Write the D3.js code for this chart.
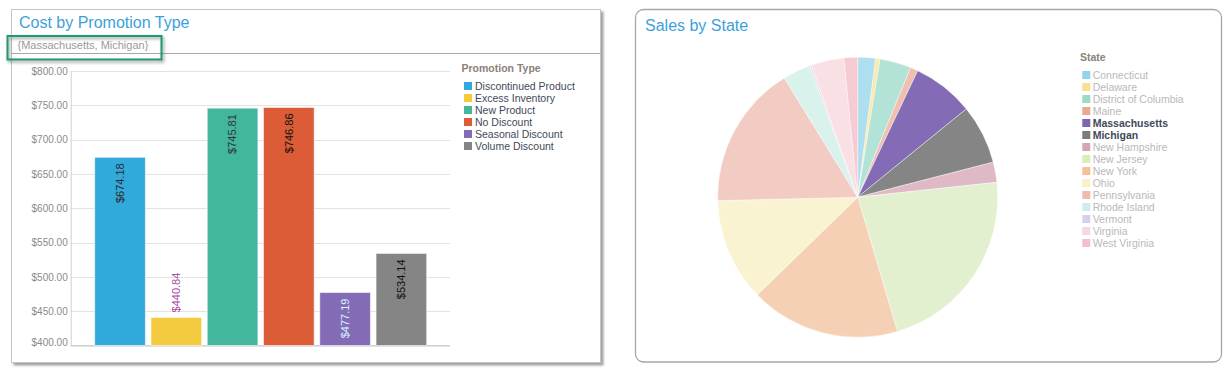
<!DOCTYPE html>
<html>
<head>
<meta charset="utf-8">
<script src="https://cdn.jsdelivr.net/npm/d3@7"></script>
<style>
    body { margin: 0; background: #fff; font-family: "Liberation Sans", Arial, sans-serif; }
</style>
</head>
<body>
<div id="vis"></div>
<script>
// ---- data ----
var promoTypes = ["Discontinued Product", "Excess Inventory", "New Product", "No Discount", "Seasonal Discount", "Volume Discount"];
var promoCost = [674.18, 440.84, 745.81, 746.86, 477.19, 534.14];
var costTicks = [400, 450, 500, 550, 600, 650, 700, 750, 800];
var selectedStates = ["Massachusetts", "Michigan"];

var states = ["Connecticut", "Delaware", "District of Columbia", "Maine", "Massachusetts", "Michigan",
    "New Hampshire", "New Jersey", "New York", "Ohio", "Pennsylvania", "Rhode Island", "Vermont",
    "Virginia", "West Virginia"];
var stateSales = [7400, 1800, 13000, 3200, 25500, 24600, 8400, 79600, 62300, 42800, 59800, 11500, 800, 13600, 5700];

// ---- styles ----
var promoColors = ["#31a9db", "#f4cb3f", "#43b79b", "#db5c37", "#836bb5", "#858585"];
var promoLabelColors = ["#2b2b2b", "#a94aa8", "#333333", "#111111", "#d4f4ff", "#111111"];
var stateColors = ["#93d4ea", "#f9e08e", "#9cd9c9", "#e9a993", "#7e65b3", "#7b7b7b", "#d7a5b6", "#d9ecbf",
    "#f4bf99", "#f9f0c4", "#eebbb0", "#cdeee6", "#d8cfe9", "#f8d8df", "#f5bfc9"];
var stateFaded = ["#aedff0", "#fbe9a8", "#b3e2d6", "#efbfb0", "#836bb5", "#858585", "#e0b9c6", "#e3f0cf",
    "#f6d0b4", "#faf3d2", "#f2cbc3", "#d9f2ec", "#e4dcf0", "#f9e0e5", "#f6cbd3"];

var width = 1232, height = 369;

var svg = d3.select("#vis").append("svg")
    .attr("width", width)
    .attr("height", height);

var defs = svg.append("defs");
var shadow = defs.append("filter").attr("id", "shadow")
    .attr("x", "-5%").attr("y", "-5%").attr("width", "115%").attr("height", "115%");
shadow.append("feDropShadow")
    .attr("dx", 2.5).attr("dy", 2.5).attr("stdDeviation", 1)
    .attr("flood-color", "#888").attr("flood-opacity", 0.8);

var boxShadow = defs.append("filter").attr("id", "boxShadow")
    .attr("x", "-10%").attr("y", "-30%").attr("width", "125%").attr("height", "170%");
boxShadow.append("feDropShadow")
    .attr("dx", 1.5).attr("dy", 2).attr("stdDeviation", 1.5)
    .attr("flood-color", "#555").attr("flood-opacity", 0.6);

/* ****** Left panel: Cost by Promotion Type ****** */
svg.append("rect")
    .attr("x", 11.5).attr("y", 9.5)
    .attr("width", 589).attr("height", 353)
    .attr("fill", "#fff")
    .attr("stroke", "#c4c4c4")
    .attr("filter", "url(#shadow)");

svg.append("text")
    .attr("x", 19).attr("y", 28)
    .attr("font-size", 16)
    .attr("fill", "#3c9fdb")
    .text("Cost by Promotion Type");

svg.append("text")
    .attr("x", 17.5).attr("y", 49)
    .attr("font-size", 11)
    .attr("fill", "#9a9a9a")
    .text("{" + selectedStates.join(", ") + "}");

svg.append("line")
    .attr("x1", 11.5).attr("x2", 600.5)
    .attr("y1", 53.5).attr("y2", 53.5)
    .attr("stroke", "#a8a8a8");

// green highlight around the filter text
svg.append("rect")
    .attr("x", 7.5).attr("y", 36)
    .attr("width", 154).attr("height", 23.5)
    .attr("fill", "none")
    .attr("stroke", "#1c9b6c")
    .attr("stroke-width", 2)
    .attr("filter", "url(#boxShadow)");

var plot = { left: 70.7, right: 450, top: 71, bottom: 345.5 };

var y = d3.scaleLinear()
    .domain([400, 800])
    .range([plot.bottom, plot.top]);

var x = d3.scaleBand()
    .domain(promoTypes)
    .range([91.9, 429.5])
    .paddingInner(0.1)
    .paddingOuter(0.05);

var colorPromo = d3.scaleOrdinal().domain(promoTypes).range(promoColors);

var barG = svg.append("g");

// gridlines
barG.append("g").selectAll("line")
    .data(costTicks)
    .enter().append("line")
    .attr("x1", plot.left).attr("x2", plot.right)
    .attr("y1", function(d) { return Math.round(y(d)) + 0.5; })
    .attr("y2", function(d) { return Math.round(y(d)) + 0.5; })
    .attr("stroke", "#e3e3e3");

var yAxis = d3.axisLeft(y)
    .tickValues(costTicks)
    .tickSize(0)
    .tickPadding(3)
    .tickFormat(function(d) { return "$" + d3.format(".2f")(d); });

barG.append("g")
    .attr("transform", "translate(" + plot.left + ",0)")
    .call(yAxis)
    .call(function(g) {
        g.select(".domain").attr("stroke", "#d0d0d0");
        g.selectAll("text")
            .attr("font-size", 10)
            .attr("font-family", "Liberation Sans, Arial, sans-serif")
            .attr("fill", "#8a8a8a")
            // lowest label is nudged up so it stays inside the plot
            .attr("dy", function(d) { return d === costTicks[0] ? "-0.05em" : "0.32em"; });
    });

barG.append("line")
    .attr("x1", plot.left).attr("x2", plot.right)
    .attr("y1", plot.bottom).attr("y2", plot.bottom)
    .attr("stroke", "#d0d0d0");

var promoData = promoTypes.map(function(t, i) { return { type: t, value: promoCost[i], idx: i }; });

barG.append("g").selectAll("rect")
    .data(promoData)
    .enter().append("rect")
    .attr("x", function(d) { return x(d.type); })
    .attr("y", function(d) { return y(d.value); })
    .attr("width", x.bandwidth())
    .attr("height", function(d) { return plot.bottom - y(d.value); })
    .attr("fill", function(d) { return colorPromo(d.type); })
    .attr("stroke", "#ffffff")
    .attr("stroke-opacity", 0.55);

barG.append("g").selectAll("text")
    .data(promoData)
    .enter().append("text")
    .attr("transform", function(d) {
        var cx = x(d.type) + x.bandwidth() / 2;
        var inside = plot.bottom - y(d.value) > 50;
        var ty = inside ? y(d.value) + 6 : y(d.value) - 5;
        return "translate(" + cx + "," + ty + ") rotate(-90)";
    })
    .attr("text-anchor", function(d) { return plot.bottom - y(d.value) > 50 ? "end" : "start"; })
    .attr("dy", "0.35em")
    .attr("font-size", 11)
    .attr("fill", function(d) { return promoLabelColors[d.idx]; })
    .text(function(d) { return "$" + d3.format(".2f")(d.value); });

// legend
var promoLegend = svg.append("g").attr("transform", "translate(461.5,0)");
promoLegend.append("text")
    .attr("x", 0).attr("y", 68)
    .attr("dy", "0.35em")
    .attr("font-size", 10.5)
    .attr("font-weight", "bold")
    .attr("fill", "#8b8178")
    .text("Promotion Type");

var pItems = promoLegend.selectAll("g.item")
    .data(promoTypes)
    .enter().append("g")
    .attr("class", "item")
    .attr("transform", function(d, i) { return "translate(0," + (86 + i * 12) + ")"; });
pItems.append("rect")
    .attr("x", 2.5).attr("y", -4)
    .attr("width", 8).attr("height", 8)
    .attr("fill", function(d) { return colorPromo(d); });
pItems.append("text")
    .attr("x", 13.5)
    .attr("dy", "0.35em")
    .attr("font-size", 10.5)
    .attr("fill", "#3e4a5a")
    .text(function(d) { return d; });

/* ****** Right panel: Sales by State ****** */
svg.append("rect")
    .attr("x", 635.5).attr("y", 9.5)
    .attr("width", 586).attr("height", 352.5)
    .attr("rx", 8)
    .attr("fill", "#fff")
    .attr("stroke", "#a6a6a6")
    .attr("stroke-width", 1.3);

svg.append("text")
    .attr("x", 645).attr("y", 31)
    .attr("font-size", 16)
    .attr("fill", "#3c9fdb")
    .text("Sales by State");

var stateData = states.map(function(s, i) { return { state: s, value: stateSales[i], idx: i }; });

var pie = d3.pie()
    .sort(null)
    .value(function(d) { return d.value; });

var arc = d3.arc().innerRadius(0).outerRadius(140);

var pieG = svg.append("g").attr("transform", "translate(857.7,197.2)");
pieG.selectAll("path")
    .data(pie(stateData))
    .enter().append("path")
    .attr("d", arc)
    .attr("fill", function(d) { return stateFaded[d.data.idx]; })
    .attr("stroke", "#ffffff")
    .attr("stroke-width", 0.4);

var stateLegend = svg.append("g").attr("transform", "translate(1080,0)");
stateLegend.append("text")
    .attr("x", 0).attr("y", 57)
    .attr("dy", "0.35em")
    .attr("font-size", 10.5)
    .attr("font-weight", "bold")
    .attr("fill", "#8b8178")
    .text("State");

var sItems = stateLegend.selectAll("g.item")
    .data(stateData)
    .enter().append("g")
    .attr("class", "item")
    .attr("transform", function(d, i) { return "translate(0," + (75 + i * 12) + ")"; });
sItems.append("rect")
    .attr("x", 2.3).attr("y", -4)
    .attr("width", 8).attr("height", 8)
    .attr("fill", function(d) { return stateColors[d.idx]; });
sItems.append("text")
    .attr("x", 12.7)
    .attr("dy", "0.35em")
    .attr("font-size", 10.5)
    .attr("font-weight", function(d) { return selectedStates.indexOf(d.state) >= 0 ? "bold" : "normal"; })
    .attr("fill", function(d) { return selectedStates.indexOf(d.state) >= 0 ? "#3e4a5a" : "#b9b9b9"; })
    .text(function(d) { return d.state; });
</script>
</body>
</html>
